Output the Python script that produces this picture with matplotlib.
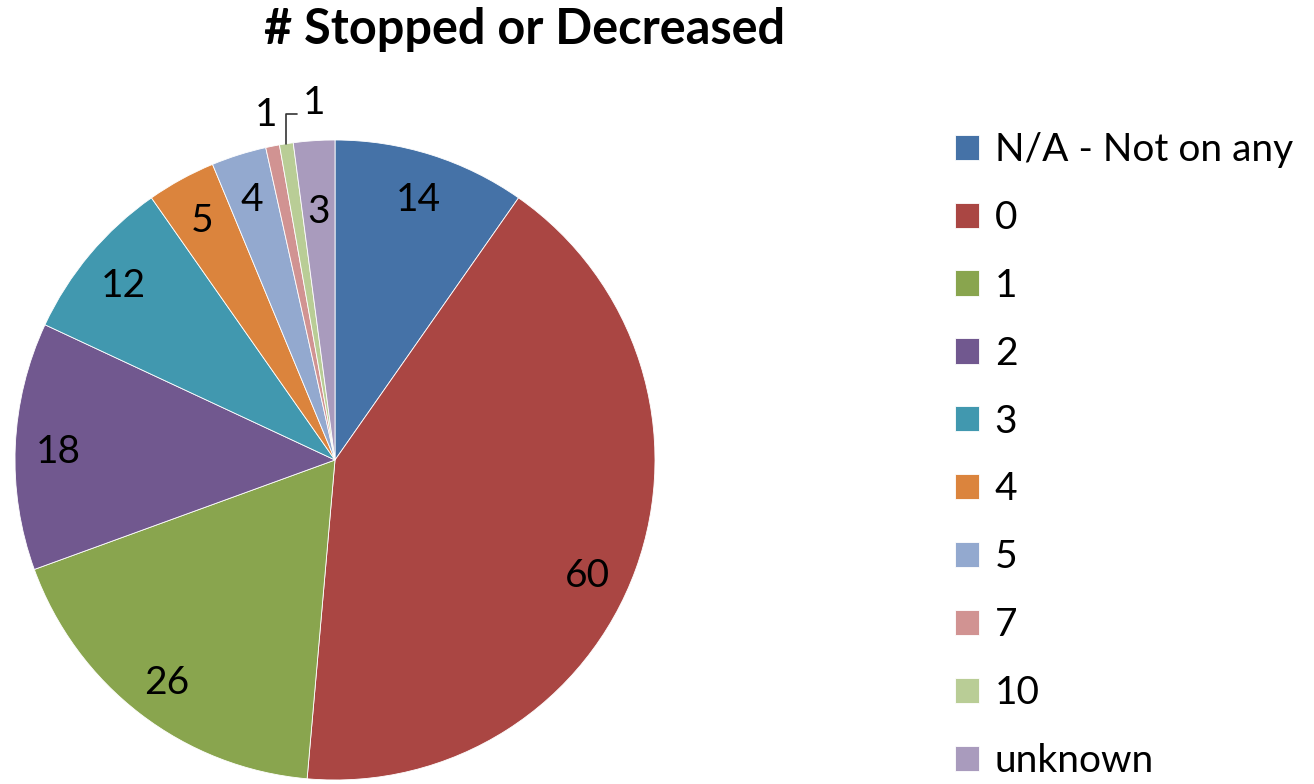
import numpy as np
import matplotlib.pyplot as plt

plt.rcParams['font.family'] = ['Lato', 'DejaVu Sans']

categories = ["N/A - Not on any", "0", "1", "2", "3", "4", "5", "7", "10", "unknown"]
counts = [14, 60, 26, 18, 12, 5, 4, 1, 1, 3]
colors = ["#4572A7", "#AA4643", "#89A54E", "#71588F", "#4198AF",
          "#DB843D", "#93A9CF", "#D19392", "#B9CD96", "#A99BBD"]

W, H = 1314, 784
fig = plt.figure(figsize=(W / 100, H / 100), dpi=100)
ax = fig.add_axes([15 / W, 4 / H, 640 / W, 640 / H])

wedges, _ = ax.pie(counts, colors=colors, startangle=90, counterclock=False,
                   radius=1.0, wedgeprops=dict(edgecolor="white", linewidth=0.6))
ax.set_xlim(-1, 1)
ax.set_ylim(-1, 1)
ax.set_aspect("equal")
ax.axis("off")

fs = 28
total = sum(counts)
cum = np.cumsum([0] + counts)
# excel "best fit" moves the big label a little further round
nudge = {1: 4.0}
for i, v in enumerate(counts):
    ang = 90 - (cum[i] + v / 2) / total * 360 - nudge.get(i, 0)
    mid = np.deg2rad(ang)
    x, y = np.cos(mid), np.sin(mid)
    if v >= 3:
        r = 0.79 if i == 9 else 0.865
        ax.text(r * x, r * y - 0.012, str(v), ha="center", va="center", fontsize=fs)
    elif i == 7:
        ax.text(1.1 * x, 1.1 * y, str(v), ha="center", va="center", fontsize=fs)
    else:
        ax.annotate(str(v), xy=(x, y), xytext=(x + 0.05, 1.115),
                    ha="left", va="center", fontsize=fs, annotation_clip=False,
                    arrowprops=dict(arrowstyle="-", color="#333333", lw=1.2,
                                    relpos=(0, 0.2), shrinkA=2, shrinkB=0,
                                    connectionstyle="angle,angleA=180,angleB=90,rad=0"))

fig.text(525 / W, 1 - 30 / H, "# Stopped or Decreased", ha="center", va="center",
         fontsize=35, fontweight="bold")

fig.legend(wedges, categories, loc="upper left", bbox_to_anchor=(955 / W, 1 - 132 / H),
           frameon=False, fontsize=fs, handlelength=0.62, handleheight=0.62,
           handletextpad=0.4, labelspacing=0.82, borderaxespad=0, borderpad=0)

fig.savefig("out.png", dpi=100)
